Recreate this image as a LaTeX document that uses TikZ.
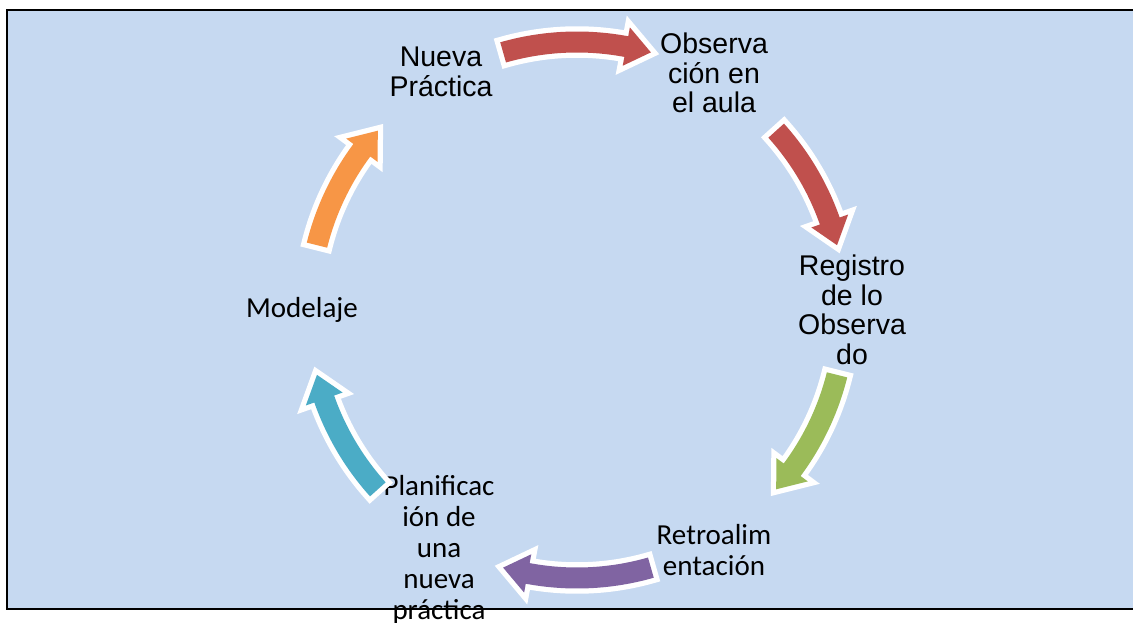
\documentclass[tikz,border=0pt]{standalone}
\usepackage{fontspec}
\newfontfamily\arialf{Liberation Sans}
\newfontfamily\calf{Carlito}
\definecolor{bgblue}{RGB}{198,217,241}
\definecolor{cred}{RGB}{192,80,77}
\definecolor{cgreen}{RGB}{155,187,89}
\definecolor{cpurple}{RGB}{128,100,162}
\definecolor{ccyan}{RGB}{75,172,198}
\definecolor{corange}{RGB}{247,150,70}
\tikzset{
  lblA/.style={align=center, inner sep=0pt, font=\arialf\fontsize{28.5}{29.5}\selectfont},
  lblC/.style={align=center, inner sep=0pt, font=\calf\fontsize{29}{31}\selectfont},
  border/.style={line width=2.2pt, black},
}
\def\R{268}\def\w{10.5}\def\h{19.5}\def\hl{5.4}
\pgfmathsetmacro\Ro{\R+\w}\pgfmathsetmacro\Ri{\R-\w}
\pgfmathsetmacro\Ho{\R+\h}\pgfmathsetmacro\Hi{\R-\h}
\newcommand{\cycarrow}[3]{%
  \pgfmathsetmacro\sgn{#3>#2 ? 1 : -1}%
  \pgfmathsetmacro\cc{#3-\sgn*\hl}%
  \fill[#1, preaction={draw=white, line width=10.5pt, line join=miter}]
    ([shift={(577pt,-310pt)}]#2:\Ro pt) arc[start angle=#2, end angle=\cc, radius=\Ro pt]
    -- ([shift={(577pt,-310pt)}]\cc:\Ho pt)
    -- ([shift={(577pt,-310pt)}]#3:\R pt)
    -- ([shift={(577pt,-310pt)}]\cc:\Hi pt)
    -- ([shift={(577pt,-310pt)}]\cc:\Ri pt) arc[start angle=\cc, end angle=#2, radius=\Ri pt]
    -- cycle;
}
\begin{document}
\begin{tikzpicture}[x=1pt,y=1pt]
\useasboundingbox (0,0) rectangle (1133,-623);
\fill[bgblue] (7,-10) rectangle (1133,-609);
% labels
\node[lblA] (nueva) at (441,-72) {Nueva\\Práctica};
\node[lblA] (obs) at (714,-73) {Observa\\ción en\\el aula};
\node[lblA] (reg) at (852,-310) {Registro\\de lo\\Observa\\do};
\node[lblC] (retro) at (714,-550) {Retroalim\\entación};
\node[lblC] (plan) at (439,-550) {Planificac\\ión de\\una\\nueva\\práctica};
\node[lblC] (mod) at (302,-310) {Modelaje};
% cycle arrows
\cycarrow{cred}{106}{74}
\cycarrow{cred}{42}{14}
\cycarrow{cgreen}{-14}{-42}
\cycarrow{cpurple}{-74}{-106}
\cycarrow{ccyan}{-138}{-166}
\cycarrow{corange}{166}{138}
% border
\draw[border] (1133,-10) -- (7,-10) -- (7,-609) -- (1133,-609);
\end{tikzpicture}
\end{document}
